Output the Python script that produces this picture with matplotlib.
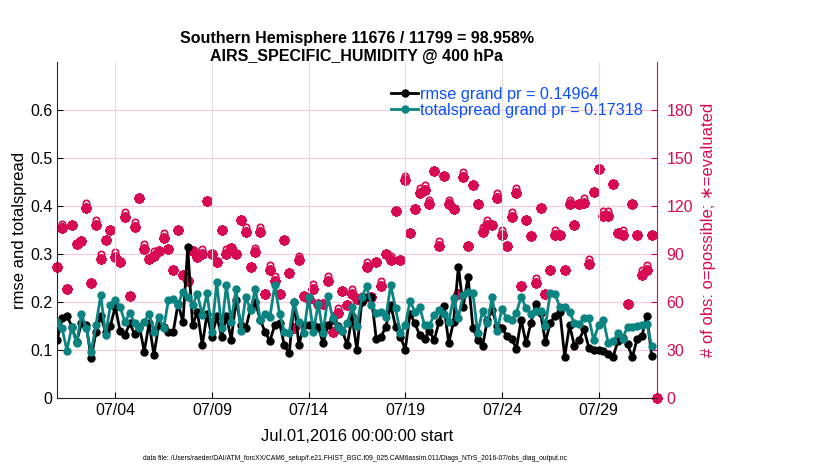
import matplotlib
matplotlib.use("Agg")
import matplotlib.pyplot as plt
import matplotlib.dates as mdates
import pandas as pd

plt.rcParams['font.family'] = ['Liberation Sans', 'DejaVu Sans']

# 6-hourly bins, Jul 01 2016 00Z onwards
times = pd.date_range('2016-07-01 00:00', periods=125, freq='6h')

rmse = [0.122, 0.166, 0.172, 0.149, 0.117, 0.156, 0.152, 0.083, 0.137, 0.170,
        0.138, 0.151, 0.190, 0.140, 0.131, 0.156, 0.133, 0.149, 0.097, 0.156,
        0.090, 0.152, 0.149, 0.138, 0.138, 0.197, 0.158, 0.314, 0.152, 0.180,
        0.110, 0.176, 0.128, 0.170, 0.128, 0.170, 0.122, 0.204, 0.152, 0.145,
        0.187, 0.200, 0.163, 0.138, 0.119, 0.152, 0.156, 0.110, 0.093, 0.200,
        0.110, 0.152, 0.152, 0.152, 0.149, 0.114, 0.152, 0.163, 0.150, 0.140,
        0.110, 0.170, 0.100, 0.200, 0.210, 0.210, 0.124, 0.128, 0.149, 0.194,
        0.149, 0.128, 0.101, 0.176, 0.156, 0.131, 0.124, 0.140, 0.121, 0.159,
        0.192, 0.115, 0.159, 0.274, 0.190, 0.253, 0.147, 0.121, 0.108, 0.163,
        0.183, 0.150, 0.146, 0.130, 0.124, 0.103, 0.163, 0.114, 0.156, 0.197,
        0.178, 0.117, 0.156, 0.172, 0.180, 0.086, 0.152, 0.109, 0.122, 0.143,
        0.105, 0.100, 0.100, 0.099, 0.092, 0.086, 0.118, 0.126, 0.112, 0.085,
        0.124, 0.130, 0.172, 0.088]

spread = [0.158, 0.145, 0.099, 0.149, 0.114, 0.175, 0.145, 0.095, 0.152, 0.215,
          0.131, 0.194, 0.204, 0.190, 0.158, 0.178, 0.156, 0.145, 0.159, 0.176,
          0.138, 0.169, 0.145, 0.204, 0.206, 0.194, 0.222, 0.211, 0.194, 0.217,
          0.173, 0.218, 0.138, 0.242, 0.145, 0.235, 0.159, 0.228, 0.140, 0.211,
          0.183, 0.228, 0.163, 0.176, 0.169, 0.235, 0.176, 0.138, 0.136, 0.200,
          0.159, 0.135, 0.210, 0.138, 0.197, 0.135, 0.212, 0.166, 0.149, 0.140,
          0.156, 0.190, 0.150, 0.210, 0.233, 0.194, 0.178, 0.180, 0.169, 0.235,
          0.187, 0.135, 0.152, 0.202, 0.180, 0.189, 0.152, 0.152, 0.173, 0.183,
          0.176, 0.159, 0.208, 0.167, 0.215, 0.222, 0.219, 0.135, 0.182, 0.156,
          0.211, 0.139, 0.186, 0.166, 0.162, 0.178, 0.211, 0.187, 0.175, 0.182,
          0.181, 0.150, 0.219, 0.217, 0.189, 0.190, 0.179, 0.156, 0.154, 0.166,
          0.166, 0.121, 0.152, 0.163, 0.115, 0.118, 0.135, 0.124, 0.149, 0.149,
          0.150, 0.152, 0.155, 0.108]

nused = [82, 106, 68, 108, 96, 98, 119, 72, 108, 87,
         99, 105, 88, 85, 113, 64, 107, 125, 93, 87,
         89, 92, 100, 93, 80, 105, 77, 73, 92, 88,
         90, 123, 90, 85, 105, 90, 94, 90, 111, 104,
         82, 91, 104, 65, 80, 73, 65, 99, 78, 44,
         86, 64, 62, 68, 59, 59, 73, 41, 53, 67,
         58, 65, 62, 61, 82, 63, 85, 70, 90, 86,
         117, 86, 136, 103, 118, 128, 130, 121, 142, 95,
         139, 121, 118, 65, 138, 95, 133, 121, 104, 108,
         108, 125, 102, 95, 113, 128, 70, 111, 101, 72,
         119, 65, 80, 102, 102, 80, 121, 108, 121, 122,
         84, 129, 143, 114, 114, 134, 103, 102, 59, 121,
         102, 77, 80, 102, 0]

nposs = [82, 109, 68, 108, 96, 98, 122, 72, 111, 90,
         99, 105, 91, 85, 116, 64, 110, 125, 96, 87,
         92, 92, 103, 93, 80, 105, 77, 73, 92, 88,
         93, 123, 90, 85, 105, 93, 94, 90, 111, 107,
         82, 94, 107, 65, 83, 76, 65, 99, 78, 44,
         89, 64, 62, 71, 59, 59, 76, 41, 56, 67,
         58, 68, 62, 64, 85, 63, 85, 73, 90, 89,
         117, 86, 139, 103, 118, 131, 133, 124, 142, 98,
         139, 124, 118, 65, 141, 95, 133, 121, 107, 111,
         108, 128, 105, 95, 116, 131, 70, 111, 101, 75,
         119, 65, 80, 105, 102, 80, 124, 108, 121, 125,
         87, 129, 143, 117, 117, 134, 103, 105, 59, 121,
         102, 80, 83, 102, 0]

teal = '#0b8482'
magenta = '#d70a53'

fig = plt.figure(figsize=(8.3, 4.7), dpi=100)
ax = fig.add_axes([0.069, 0.153, 0.722, 0.715])

ax.plot(times[:len(rmse)], rmse, '-o', color='black', lw=2, ms=5,
        label='rmse grand pr = 0.14964', zorder=3)
ax.plot(times[:len(spread)], spread, '-o', color=teal, lw=2, ms=5,
        label='totalspread grand pr = 0.17318', zorder=4)

ax.set_ylim(0, 0.7)
ax.set_yticks([0, 0.1, 0.2, 0.3, 0.4, 0.5, 0.6])
ax.set_yticklabels(['0', '0.1', '0.2', '0.3', '0.4', '0.5', '0.6'])
ax.set_xlim(pd.Timestamp('2016-07-01'), pd.Timestamp('2016-08-01'))
ax.set_xticks(pd.to_datetime(['2016-07-04', '2016-07-09', '2016-07-14',
                              '2016-07-19', '2016-07-24', '2016-07-29']))
ax.xaxis.set_major_formatter(mdates.DateFormatter('%m/%d'))
ax.grid(axis='x', color='#dedede', lw=0.8)
ax.tick_params(direction='in', labelsize=11.5, length=4)
ax.spines['top'].set_visible(False)
ax.spines['right'].set_visible(False)
ax.spines['bottom'].set_color('#262626')
ax.spines['left'].set_color('#262626')

ax.set_ylabel('rmse and totalspread', fontsize=12, labelpad=2)
ax.set_xlabel('Jul.01,2016 00:00:00 start', fontsize=12, labelpad=8)

ax.legend(loc='upper left', bbox_to_anchor=(0.543, 0.95), frameon=False,
          fontsize=11.7, handlelength=1.7, handletextpad=0.1,
          labelspacing=0.05, borderpad=0, labelcolor='#0a50ff')

ax2 = ax.twinx()
ax2.plot(times, nposs, 'o', color=magenta, mfc='none', ms=4.5, mew=1.3, zorder=2)
ax2.plot(times, nused, ls='none', marker=(8, 2, 0), color=magenta, ms=7.5,
         mew=2.2, zorder=3, clip_on=False)
ax2.set_ylim(0, 210)
ax2.set_yticks([0, 30, 60, 90, 120, 150, 180])
ax2.grid(axis='y', color='#f6c8da', lw=0.8)
ax2.tick_params(direction='in', labelsize=11.5, length=4, colors=magenta, pad=7)
ax2.spines['right'].set_color(magenta)
ax2.spines['top'].set_visible(False)
ax2.spines['left'].set_visible(False)
ax2.spines['bottom'].set_visible(False)
ax2.set_ylabel('# of obs: o=possible; \u2217=evaluated', color=magenta,
               fontsize=12, labelpad=6)
ax.set_zorder(ax2.get_zorder() + 1)
ax.patch.set_visible(False)

fig.text(0.43, 0.935, 'Southern Hemisphere 11676 / 11799 = 98.958%\nAIRS_SPECIFIC_HUMIDITY @ 400 hPa',
         ha='center', va='top', fontsize=11.5, fontweight='bold', linespacing=1.3)
fig.text(0.428, 0.018, 'data file: /Users/raeder/DAI/ATM_forcXX/CAM6_setup/f.e21.FHIST_BGC.f09_025.CAM6assim.011/Diags_NTrS_2016-07/obs_diag_output.nc',
         ha='center', va='bottom', fontsize=4.9)

fig.savefig('out.png', dpi=100)
